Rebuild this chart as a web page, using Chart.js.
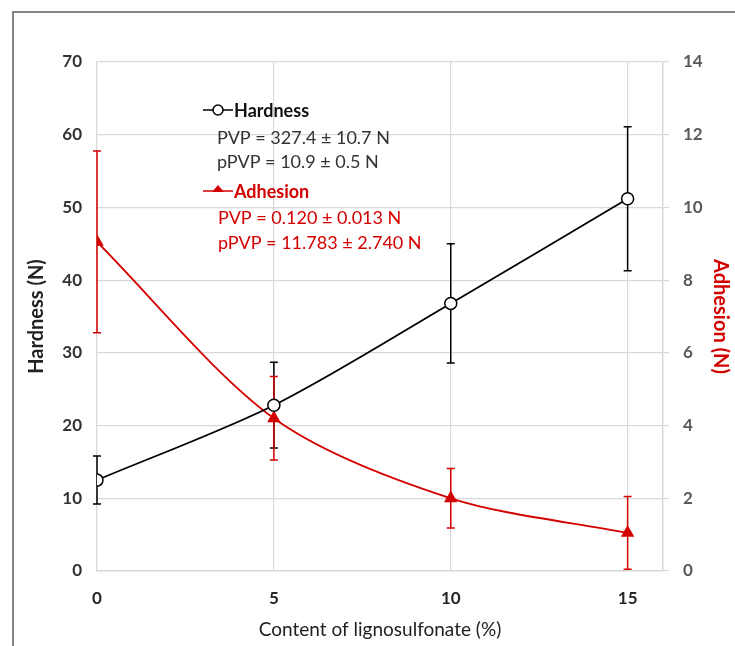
<!DOCTYPE html>
<html>
<head>
<meta charset="utf-8">
<script src="https://cdn.jsdelivr.net/npm/chart.js@4/dist/chart.umd.min.js"></script>
<style>
html,body{margin:0;padding:0;background:#fff;}
#wrap{width:735px;height:646px;position:relative;}
</style>
</head>
<body>
<div id="wrap"><canvas id="c" width="735" height="646"></canvas></div>
<script>
const contentLevels = [0, 5, 10, 15];
const hardness = [12.5, 22.8, 36.8, 51.2];
const hardnessErr = [3.3, 5.9, 8.2, 9.9];
const adhesion = [9.05, 4.2, 2.0, 1.05];
const adhesionErr = [2.5, 1.15, 0.82, 1.0];
const xTicks = [0, 5, 10, 15];
const hardnessLegend = ['Hardness', 'PVP = 327.4 \u00b1 10.7 N', 'pPVP = 10.9 \u00b1 0.5 N'];
const adhesionLegend = ['Adhesion', 'PVP = 0.120 \u00b1 0.013 N', 'pPVP = 11.783 \u00b1 2.740 N'];

const BLACK = '#000000';
const RED = '#d40000';
const GRID = '#d9d9d9';
const FONT = 'Lato, "Open Sans", "Liberation Sans", sans-serif';

const errorBars = {
  id: 'errorBars',
  beforeDatasetsDraw(chart) {
    const ctx = chart.ctx;
    const xs = chart.scales.x;
    const sets = [
      {vals: hardness, errs: hardnessErr, scale: chart.scales.y, color: BLACK, w: 1.5},
      {vals: adhesion, errs: adhesionErr, scale: chart.scales.y2, color: RED, w: 1.5}
    ];
    ctx.save();
    sets.forEach(s => {
      ctx.strokeStyle = s.color;
      ctx.lineWidth = s.w;
      s.vals.forEach((v, i) => {
        const x = xs.getPixelForValue(contentLevels[i]);
        const yt = s.scale.getPixelForValue(v + s.errs[i]);
        const yb = s.scale.getPixelForValue(Math.max(0, v - s.errs[i]));
        ctx.beginPath();
        ctx.moveTo(x, yt); ctx.lineTo(x, yb);
        ctx.moveTo(x - 4, yt); ctx.lineTo(x + 4, yt);
        ctx.moveTo(x - 4, yb); ctx.lineTo(x + 4, yb);
        ctx.stroke();
      });
    });
    ctx.restore();
  }
};

const frameAndLegend = {
  id: 'frameAndLegend',
  beforeDraw(chart) {
    const ctx = chart.ctx;
    ctx.save();
    ctx.fillStyle = '#fff';
    ctx.fillRect(0, 0, chart.width, chart.height);
    ctx.strokeStyle = '#858585';
    ctx.lineWidth = 2;
    ctx.beginPath();
    ctx.moveTo(13, 646); ctx.lineTo(13, 12); ctx.lineTo(735, 12);
    ctx.stroke();
    ctx.restore();
  },
  afterDraw(chart) {
    const ctx = chart.ctx;
    ctx.save();
    ctx.textBaseline = 'middle';
    ctx.textAlign = 'left';
    // Hardness legend
    ctx.strokeStyle = BLACK; ctx.lineWidth = 1.5;
    ctx.beginPath(); ctx.moveTo(203, 110); ctx.lineTo(233, 110); ctx.stroke();
    ctx.fillStyle = '#fff';
    ctx.beginPath(); ctx.arc(218, 110, 5, 0, Math.PI * 2); ctx.fill(); ctx.stroke();
    ctx.fillStyle = '#111';
    ctx.font = 'bold 18px ' + FONT;
    ctx.fillText(hardnessLegend[0], 234, 111);
    ctx.fillStyle = '#333';
    ctx.font = '18px ' + FONT;
    ctx.fillText(hardnessLegend[1], 217, 138);
    ctx.fillText(hardnessLegend[2], 217, 162);
    // Adhesion legend
    ctx.strokeStyle = RED; ctx.fillStyle = RED;
    ctx.beginPath(); ctx.moveTo(203, 191); ctx.lineTo(233, 191); ctx.stroke();
    ctx.beginPath(); ctx.moveTo(218, 185); ctx.lineTo(224, 192); ctx.lineTo(212, 192); ctx.closePath(); ctx.fill();
    ctx.font = 'bold 18px ' + FONT;
    ctx.fillText(adhesionLegend[0], 234, 192);
    ctx.font = '18px ' + FONT;
    ctx.fillText(adhesionLegend[1], 218, 218);
    ctx.fillText(adhesionLegend[2], 218, 243);
    ctx.restore();
  }
};

new Chart(document.getElementById('c'), {
  type: 'line',
  data: {
    datasets: [
      {
        label: 'Hardness',
        data: contentLevels.map((x, i) => ({x: x, y: hardness[i]})),
        yAxisID: 'y',
        borderColor: BLACK,
        borderWidth: 1.8,
        pointStyle: 'circle',
        pointRadius: 6,
        pointBorderWidth: 1.5,
        pointBackgroundColor: '#fff',
        pointBorderColor: BLACK,
        tension: 0.3
      },
      {
        label: 'Adhesion',
        data: contentLevels.map((x, i) => ({x: x, y: adhesion[i]})),
        yAxisID: 'y2',
        borderColor: RED,
        borderWidth: 1.8,
        pointStyle: 'triangle',
        pointRadius: 6,
        pointBackgroundColor: RED,
        pointBorderColor: RED,
        tension: 0.3
      }
    ]
  },
  options: {
    responsive: false,
    animation: false,
    layout: {padding: {left: 14, right: 0, top: 62, bottom: 0}},
    plugins: {legend: {display: false}, tooltip: {enabled: false}},
    scales: {
      x: {
        type: 'linear',
        min: 0, max: 16,
        afterBuildTicks(scale) { scale.ticks = xTicks.map(v => ({value: v})); },
        afterFit(scale) { scale.height = 75; },
        grid: {color: GRID, drawTicks: false, lineWidth: 1.2},
        border: {color: GRID, width: 1.5},
        ticks: {color: '#262626', padding: 17, font: {family: FONT, size: 17, weight: 'bold'}},
        title: {display: true, text: 'Content of lignosulfonate (%)', color: '#222', padding: {top: 0, bottom: 5}, font: {family: FONT, size: 19}}
      },
      y: {
        position: 'left',
        min: 0, max: 70,
        ticks: {stepSize: 10, color: '#333', padding: 15, font: {family: FONT, size: 17, weight: 'bold'}},
        afterFit(scale) { scale.width = 83; },
        grid: {color: GRID, drawTicks: false, lineWidth: 1.2},
        border: {color: GRID, width: 1.2},
        title: {display: true, text: 'Hardness (N)', color: '#222', padding: {top: 11, bottom: 0}, font: {family: FONT, size: 20, weight: 'bold'}}
      },
      y2: {
        position: 'right',
        min: 0, max: 14,
        ticks: {stepSize: 2, color: '#595959', padding: 14, font: {family: FONT, size: 17, weight: 'bold'}},
        afterFit(scale) { scale.width = 72; },
        grid: {drawOnChartArea: false, color: GRID, tickLength: 6, lineWidth: 1.2},
        border: {color: GRID, width: 1.5},
        title: {display: true, text: 'Adhesion (N)', color: RED, padding: {top: 3, bottom: 0}, font: {family: FONT, size: 20, weight: 'bold'}}
      }
    }
  },
  plugins: [frameAndLegend, errorBars]
});
</script>
</body>
</html>
